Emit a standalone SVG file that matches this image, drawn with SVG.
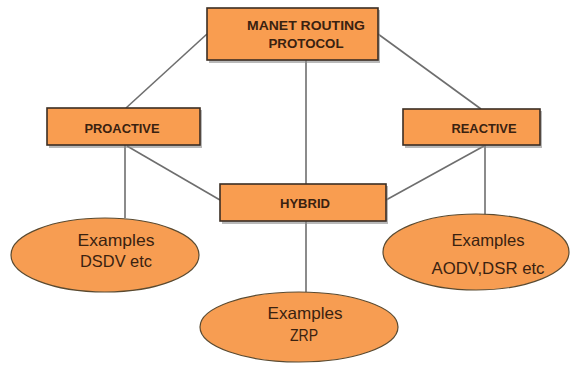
<svg xmlns="http://www.w3.org/2000/svg" width="583" height="365" viewBox="0 0 583 365">
<style>
.bg{fill:#ffffff}
.box{fill:#f99d50;stroke:#3b2e24;stroke-width:1.6}
.sh{fill:#8a8a8a;opacity:0.6}
.ell{fill:#f79d52;stroke:#5a4a30;stroke-width:1.2}
.ln{stroke:#6e6e6e;stroke-width:1.6;fill:none}
.bt{font-family:"Liberation Sans",Arial,sans-serif;font-size:13px;font-weight:bold;fill:#3a2210;text-anchor:middle}
.et{font-family:"Liberation Sans",Arial,sans-serif;font-size:16.5px;fill:#3a2210;text-anchor:middle}
</style>
<rect class="bg" x="0" y="0" width="583" height="365"/>
<g id="connectors">
<line class="ln" x1="207" y1="34" x2="126" y2="108"/>
<line class="ln" x1="378" y1="34" x2="481" y2="109"/>
<line class="ln" x1="306" y1="60" x2="306" y2="184"/>
<line class="ln" x1="125" y1="145" x2="125" y2="218"/>
<line class="ln" x1="127" y1="146" x2="220" y2="200"/>
<line class="ln" x1="485" y1="145" x2="485" y2="215"/>
<line class="ln" x1="484" y1="146" x2="386" y2="200"/>
<line class="ln" x1="306" y1="221" x2="306" y2="292"/>
</g>
<g id="manet">
<rect class="sh" x="209" y="10" width="171" height="53"/>
<rect class="box" x="207" y="8" width="171" height="52"/>
<text class="bt" x="306" y="30" textLength="118" lengthAdjust="spacingAndGlyphs">MANET ROUTING</text>
<text class="bt" x="306" y="48" textLength="75" lengthAdjust="spacingAndGlyphs">PROTOCOL</text>
</g>
<g id="proactive">
<rect class="sh" x="49" y="110" width="153" height="38"/>
<rect class="box" x="47" y="108" width="153" height="37"/>
<text class="bt" x="122" y="133" textLength="75" lengthAdjust="spacingAndGlyphs">PROACTIVE</text>
</g>
<g id="reactive">
<rect class="sh" x="405" y="111" width="137" height="37"/>
<rect class="box" x="403" y="109" width="137" height="36"/>
<text class="bt" x="484" y="133" textLength="65" lengthAdjust="spacingAndGlyphs">REACTIVE</text>
</g>
<g id="hybrid">
<rect class="sh" x="222" y="186" width="166" height="38"/>
<rect class="box" x="220" y="184" width="166" height="37"/>
<text class="bt" x="305" y="208" textLength="50" lengthAdjust="spacingAndGlyphs">HYBRID</text>
</g>
<g id="dsdv">
<ellipse class="ell" cx="105" cy="255" rx="94" ry="37"/>
<text class="et" x="116" y="246" textLength="77" lengthAdjust="spacingAndGlyphs">Examples</text>
<text class="et" x="116" y="267" textLength="72" lengthAdjust="spacingAndGlyphs">DSDV etc</text>
</g>
<g id="aodv">
<ellipse class="ell" cx="476" cy="252" rx="93" ry="38"/>
<text class="et" x="488" y="246" textLength="73" lengthAdjust="spacingAndGlyphs">Examples</text>
<text class="et" x="488" y="274" textLength="113" lengthAdjust="spacingAndGlyphs">AODV,DSR etc</text>
</g>
<g id="zrp">
<ellipse class="ell" cx="299" cy="327" rx="99" ry="35"/>
<text class="et" x="305" y="319" textLength="75" lengthAdjust="spacingAndGlyphs">Examples</text>
<text class="et" x="304" y="341" textLength="28" lengthAdjust="spacingAndGlyphs">ZRP</text>
</g>
</svg>
